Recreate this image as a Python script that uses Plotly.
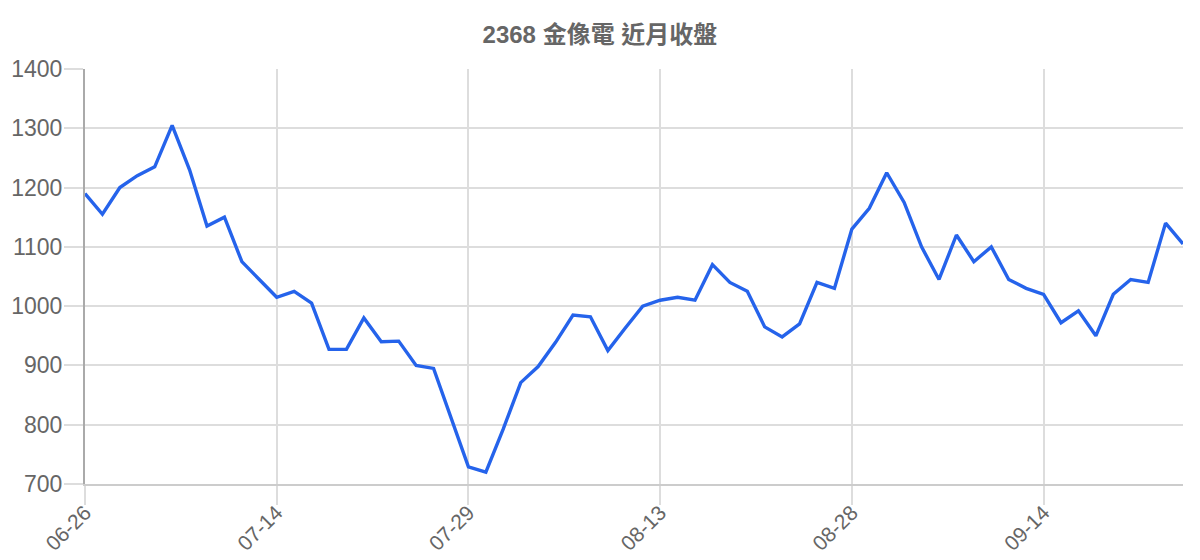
import plotly.graph_objects as go

# 2368 金像電 daily closes, roughly one month window
dates = [
    '06-26', '06-27', '06-30', '07-01', '07-02', '07-03', '07-04', '07-07',
    '07-08', '07-09', '07-10', '07-14', '07-15', '07-16', '07-17', '07-18',
    '07-21', '07-22', '07-23', '07-24', '07-25', '07-28', '07-29', '07-30',
    '07-31', '08-01', '08-04', '08-05', '08-06', '08-07', '08-08', '08-11',
    '08-12', '08-13', '08-14', '08-15', '08-18', '08-19', '08-20', '08-21',
    '08-22', '08-25', '08-26', '08-27', '08-28', '08-29', '09-01', '09-02',
    '09-03', '09-04', '09-05', '09-08', '09-09', '09-10', '09-11', '09-14',
    '09-15', '09-16', '09-17', '09-18', '09-19', '09-22', '09-23', '09-24',
]
closes = [
    1190, 1155, 1200, 1220, 1235, 1305, 1230, 1135, 1150, 1075, 1045, 1015,
    1025, 1005, 927, 927, 980, 940, 941, 900, 895, 810, 729, 720,
    793, 871, 898, 939, 985, 982, 925, 963, 1000, 1010, 1015, 1010,
    1070, 1040, 1025, 965, 948, 970, 1040, 1030, 1130, 1165, 1225, 1175,
    1100, 1045, 1120, 1075, 1100, 1045, 1030, 1020, 972, 992, 950, 1020,
    1045, 1040, 1140, 1105,
]
tick_labels = ['06-26', '07-14', '07-29', '08-13', '08-28', '09-14']
y_ticks = [700, 800, 900, 1000, 1100, 1200, 1300, 1400]

font = 'Liberation Sans, Arial, Noto Sans CJK TC, sans-serif'

# page body has an 8px margin, so the figure is a bit smaller than the window
fig = go.Figure(go.Scatter(
    x=dates, y=closes, mode='lines',
    line=dict(color='#2563eb', width=3.4),
))

fig.update_layout(
    width=1192, height=552,
    margin=dict(l=77, r=17, t=61, b=76),
    paper_bgcolor='white', plot_bgcolor='white',
    showlegend=False,
    font=dict(family=font, color='#666666'),
    title=dict(
        text='<b>2368 金像電 近月收盤</b>',
        x=0.4966, xanchor='center', y=0.951, yanchor='middle',
        font=dict(size=24, color='#666666'),
    ),
)
fig.update_xaxes(
    type='category', range=[0, len(dates) - 1], automargin=False,
    tickmode='array', tickvals=tick_labels, ticktext=tick_labels,
    tickangle=-45, tickfont=dict(size=21, color='#666666'),
    ticklabelstandoff=-13,
    ticks='outside', ticklen=19, tickcolor='#dddddd', tickwidth=1.5,
    showgrid=True, gridcolor='#dddddd', gridwidth=1.5,
    showline=True, linecolor='#cccccc', linewidth=2,
    zeroline=False,
)
fig.update_yaxes(
    range=[700, 1400], tickmode='array', tickvals=y_ticks, automargin=False,
    tickfont=dict(size=23, color='#666666'), ticklabelstandoff=-3,
    ticks='outside', ticklen=19, tickcolor='#dddddd', tickwidth=1.5,
    showgrid=True, gridcolor='#dddddd', gridwidth=1.5,
    showline=True, linecolor='#aaaaaa', linewidth=2,
    zeroline=False,
)

fig.write_html('out.html')
